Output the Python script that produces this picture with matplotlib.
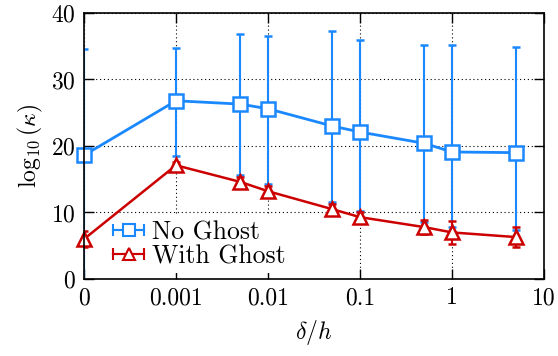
import numpy as np
import matplotlib
matplotlib.use("Agg")
import matplotlib.pyplot as plt
from matplotlib.ticker import FixedLocator, FixedFormatter
from matplotlib.lines import Line2D
from matplotlib.legend_handler import HandlerLine2D, HandlerTuple

# data
delta = [0, 0.001, 0.005, 0.01, 0.05, 0.1, 0.5, 1, 5]
no_ghost = [18.6, 26.8, 26.3, 25.6, 23.0, 22.1, 20.4, 19.1, 19.0]
no_ghost_low = [-1.0, 18.5, 15.6, 14.3, 11.6, 10.2, 8.6, 7.8, 7.4]
no_ghost_high = [34.6, 34.7, 36.8, 36.5, 37.3, 35.9, 35.2, 35.2, 34.9]
with_ghost = [6.0, 17.1, 14.6, 13.2, 10.5, 9.3, 7.8, 7.0, 6.3]
with_ghost_err = [1.2, 0.5, 0.7, 0.8, 0.8, 0.8, 1.0, 1.7, 1.5]

xticks = [0, 0.001, 0.01, 0.1, 1, 10]
xtick_labels = ['0', '0.001', '0.01', '0.1', '1', '10']
yticks = [0, 10, 20, 30, 40]

blue = '#1a88ff'
red = '#cc0000'

plt.rcParams['font.family'] = 'serif'
plt.rcParams['font.serif'] = ['cmr10', 'DejaVu Serif']
plt.rcParams['mathtext.fontset'] = 'cm'
plt.rcParams['axes.formatter.use_mathtext'] = True


# log axis where 0 sits one decade below 0.001
def fwd(x):
    return np.log10(np.maximum(np.asarray(x, dtype=float), 1e-4))


def inv(y):
    return 10.0 ** np.asarray(y, dtype=float)


fig = plt.figure(figsize=(5.58, 3.56), dpi=100)
ax = fig.add_axes([0.1505, 0.2163, 0.8245, 0.7472])
ax.set_xscale('function', functions=(fwd, inv))

x = np.array(delta)
ng = np.array(no_ghost)
ng_err = [ng - np.array(no_ghost_low), np.array(no_ghost_high) - ng]

e1 = ax.errorbar(x, ng, yerr=ng_err, color=blue, lw=2.0, elinewidth=1.5,
                 capsize=3, capthick=1.5, marker='s', ms=9.5, mfc='white',
                 mec=blue, mew=1.8, zorder=3)
e2 = ax.errorbar(x, with_ghost, yerr=with_ghost_err, color=red, lw=1.8,
                 elinewidth=1.5, capsize=3, capthick=1.5, marker='^', ms=10,
                 mfc='white', mec=red, mew=1.8, zorder=4)
# markers may spill over the frame, error bars are clipped
for e in (e1, e2):
    e.lines[0].set_clip_on(False)

ax.set_xlim(0, 10)
ax.set_ylim(0, 40)
ax.xaxis.set_major_locator(FixedLocator(xticks))
ax.xaxis.set_major_formatter(FixedFormatter(xtick_labels))
ax.xaxis.set_minor_locator(FixedLocator([]))
ax.set_yticks(yticks)
ax.tick_params(direction='in', length=7, width=1, top=True, right=True,
               labelsize=17, pad=6)
ax.grid(True, color='black', linestyle=(0, (1, 2.5)), linewidth=0.8)
for s in ax.spines.values():
    s.set_linewidth(1.2)
    s.set_zorder(6)

ax.set_xlabel(r'$\delta/h$', fontsize=17, labelpad=6)
ax.set_ylabel(r'$\log_{10}(\kappa)$', fontsize=17, labelpad=4)

# legend samples in gnuplot style: horizontal bar with end caps
handles = []
for c, m in [(blue, 's'), (red, '^')]:
    caps = Line2D([], [], color=c, lw=1.5, marker='|', ms=9, mew=1.5)
    mark = Line2D([], [], color=c, lw=1.5, marker=m, ms=9, mfc='white',
                  mec=c, mew=1.5)
    handles.append((caps, mark))
hmap = {}
for caps, mark in handles:
    hmap[caps] = HandlerLine2D(numpoints=2, marker_pad=0)
    hmap[mark] = HandlerLine2D(numpoints=1)
hmap[tuple] = HandlerTuple(ndivide=1)
leg = ax.legend(handles, ['No Ghost', 'With Ghost'], handler_map=hmap,
                loc='lower left', bbox_to_anchor=(0.025, -0.027), fontsize=18.5,
                frameon=True, framealpha=1, edgecolor='none', facecolor='white',
                handlelength=1.2, handletextpad=0.3, labelspacing=0.0,
                borderpad=0.2, fancybox=False)
# box hides the grid but stays under the data lines
leg.set_zorder(2)

fig.savefig('out.png', dpi=100)
